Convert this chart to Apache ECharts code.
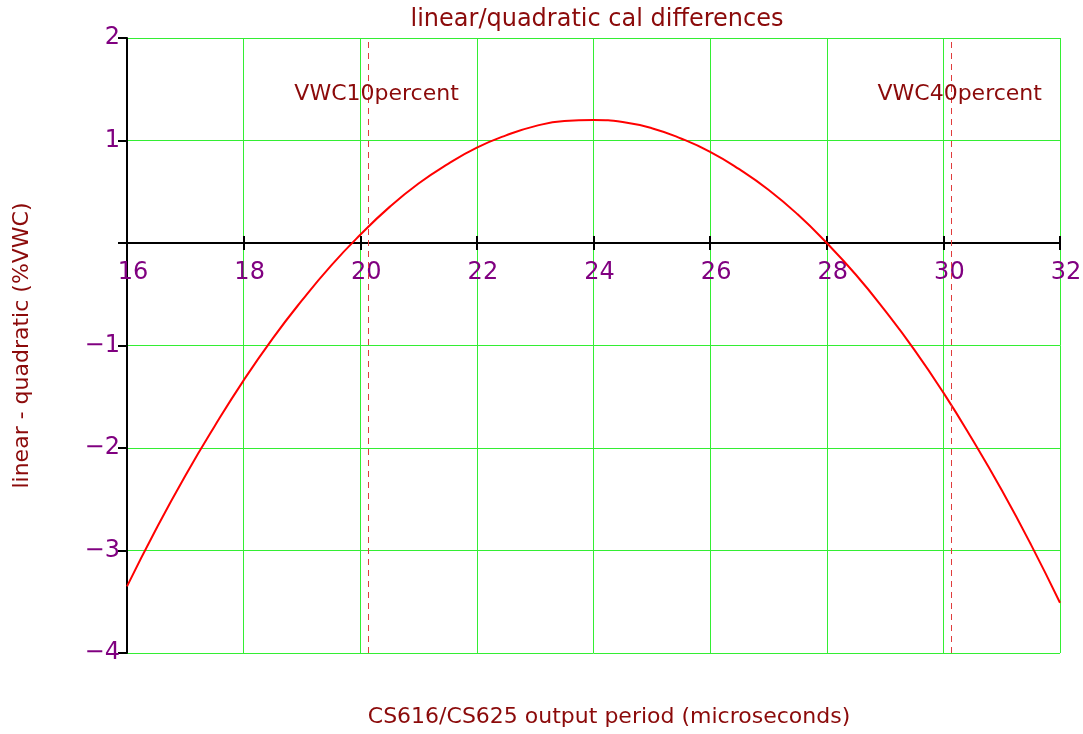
<!DOCTYPE html>
<html>
<head>
<meta charset="utf-8">
<script src="https://cdn.jsdelivr.net/npm/echarts@6/dist/echarts.min.js"></script>
<style>
  html, body { margin: 0; padding: 0; background: #fff; }
  #chart { width: 1083px; height: 734px; }
</style>
</head>
<body>
<div id="chart"></div>
<script>
var periods = [16, 16.5, 17, 17.5, 18, 18.5, 19, 19.5, 20, 20.5, 21, 21.5, 22, 22.5, 23, 23.5,
               24, 24.5, 25, 25.5, 26, 26.5, 27, 27.5, 28, 28.5, 29, 29.5, 30, 30.5, 31, 31.5, 32];
var diffs = [-3.35, -2.79, -2.27, -1.79, -1.34, -0.93, -0.56, -0.22, 0.08, 0.35, 0.58, 0.77, 0.93, 1.05, 1.14, 1.19,
             1.2, 1.18, 1.12, 1.02, 0.89, 0.72, 0.52, 0.28, 0.0, -0.31, -0.66, -1.04, -1.46, -1.92, -2.41, -2.94, -3.51];
var refNames = ['VWC10percent', 'VWC40percent'];
var refPeriods = [20.13, 30.13];
var refLabelY = 1.45;

var font = '"DejaVu Sans", sans-serif';
var darkRed = '#8b0a0a';
var purple = '#800080';
var green = '#33ee33';

var chart = echarts.init(document.getElementById('chart'));
var pts = periods.map(function (p, i) { return [p, diffs[i]]; });

// x axis sits on y = 0: shift it up from the grid bottom
var gridTop = 38, gridBottom = 81, chartH = 734;
var plotH = chartH - gridTop - gridBottom;
var zeroOffset = -plotH * (4 / 6);

var option = {
    animation: false,
    title: [{
        text: 'linear/quadratic cal differences',
        left: 592, top: 3, textAlign: 'center',
        textStyle: { fontFamily: font, fontSize: 24, fontWeight: 'normal', color: darkRed }
    }, {
        text: 'CS616/CS625 output period (microseconds)',
        left: 604, top: 701, textAlign: 'center',
        textStyle: { fontFamily: font, fontSize: 22, fontWeight: 'normal', color: darkRed }
    }],
    grid: { left: 127, right: 23, top: gridTop, bottom: gridBottom, outerBoundsMode: 'none', containLabel: false },
    xAxis: [{
        type: 'value', min: 16, max: 32, interval: 2, position: 'bottom', offset: zeroOffset,
        axisLine: { onZero: false, lineStyle: { color: '#000', width: 2 } },
        axisTick: { show: true, length: 7, lineStyle: { color: '#000', width: 2 } },
        axisLabel: { color: purple, fontFamily: font, fontSize: 24, margin: 18, padding: [0, 0, 0, 12] },
        splitLine: { show: true, lineStyle: { color: green, width: 1 } }
    }, {
        type: 'value', min: 16, max: 32, interval: 2, position: 'bottom', offset: zeroOffset,
        axisLine: { show: false, onZero: false },
        axisTick: { show: true, inside: true, length: 7, lineStyle: { color: '#000', width: 2 } },
        axisLabel: { show: false },
        splitLine: { show: false }
    }],
    yAxis: {
        type: 'value', min: -4, max: 2, interval: 1,
        name: 'linear - quadratic (%VWC)', nameLocation: 'middle', nameGap: 94,
        nameTextStyle: { color: darkRed, fontFamily: font, fontSize: 22 },
        axisLine: { show: true, onZero: false, lineStyle: { color: '#000', width: 2 } },
        axisTick: { show: true, length: 9, lineStyle: { color: '#000', width: 2 } },
        axisLabel: {
            color: purple, fontFamily: font, fontSize: 24, margin: 7,
            formatter: function (v) {
                if (v === 0) return '';
                return v < 0 ? '\u2212' + Math.abs(v) : String(v);
            }
        },
        splitLine: { show: true, lineStyle: { color: green, width: 1 } }
    },
    series: [{
        type: 'line',
        data: pts,
        smooth: true,
        showSymbol: false,
        lineStyle: { color: '#ff0000', width: 2 },
        markLine: {
            silent: true, symbol: 'none',
            label: { show: false },
            lineStyle: { color: '#e03c3c', type: [6, 5], width: 1 },
            data: refPeriods.map(function (p) { return { xAxis: p }; })
        },
        markPoint: {
            silent: true, symbol: 'circle', symbolSize: 0,
            label: {
                show: true, position: 'inside', color: darkRed,
                fontFamily: font, fontSize: 22,
                formatter: function (p) { return p.name; }
            },
            data: refPeriods.map(function (p, i) {
                return { name: refNames[i], coord: [p + 0.15, refLabelY] };
            })
        }
    }]
};
chart.setOption(option);
</script>
</body>
</html>
